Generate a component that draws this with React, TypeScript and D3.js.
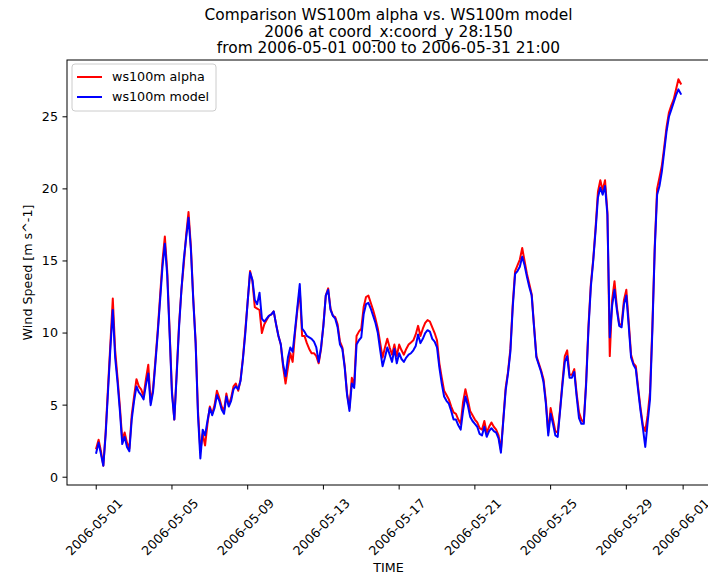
import React, { useEffect, useRef } from 'react';
import * as d3 from 'd3';

// 3-hourly wind speed, one row per day (00:00 ... 21:00), 2006-05-01 .. 2006-05-31
const alpha = [
    2.0, 2.6, 1.8, 0.8, 3.2, 6.3, 9.3, 12.4,
    8.8, 6.9, 4.9, 2.6, 3.1, 2.4, 2.0, 4.3,
    5.6, 6.8, 6.3, 6.1, 5.6, 6.8, 7.8, 5.2,
    6.1, 8.1, 10.2, 12.6, 15.0, 16.7, 14.3, 10.2,
    6.0, 4.0, 7.3, 10.6, 13.0, 14.8, 16.8, 18.4,
    16.0, 12.4, 9.4, 4.6, 1.8, 3.0, 2.2, 3.7,
    4.9, 4.4, 5.0, 6.0, 5.5, 4.9, 4.6, 5.8,
    5.0, 5.5, 6.3, 6.5, 6.0, 6.8, 8.3, 10.2,
    12.2, 14.3, 13.6, 11.8, 11.7, 11.6, 10.0, 10.6,
    10.9, 11.2, 11.3, 11.5, 10.6, 9.8, 9.2, 7.6,
    6.5, 7.6, 8.6, 8.0, 10.0, 11.6, 13.0, 9.8,
    9.8, 9.3, 8.9, 8.6, 8.6, 8.4, 7.9, 8.9,
    10.6, 12.6, 13.1, 11.7, 11.2, 11.1, 10.6, 9.4,
    9.0, 7.7, 5.8, 4.8, 6.9, 6.4, 9.8, 10.1,
    10.3, 11.8, 12.5, 12.6, 12.1, 11.6, 11.0, 10.3,
    9.3, 8.3, 9.0, 9.6, 9.0, 8.5, 9.2, 8.4,
    9.2, 8.8, 8.5, 8.9, 9.2, 9.35, 9.5, 9.9,
    10.5, 9.8, 10.3, 10.7, 10.9, 10.8, 10.4, 10.0,
    9.5, 7.9, 6.9, 6.0, 5.7, 5.4, 4.9, 4.5,
    4.4, 4.0, 3.7, 5.2, 6.1, 5.4, 4.6, 4.3,
    4.0, 3.8, 3.4, 3.3, 3.9, 3.1, 3.5, 3.8,
    3.5, 3.3, 2.9, 1.9, 4.0, 6.2, 7.3, 8.9,
    12.0, 14.3, 14.7, 15.1, 15.9, 15.0, 14.1, 13.4,
    12.7, 10.5, 8.4, 7.9, 7.4, 6.8, 5.3, 3.1,
    4.8, 4.0, 3.2, 3.1, 4.7, 6.6, 8.4, 8.8,
    7.1, 7.1, 7.5, 5.8, 4.5, 4.0, 3.8, 6.6,
    10.5, 13.4, 15.1, 17.3, 19.8, 20.6, 19.9, 20.6,
    18.4, 8.4, 12.3, 13.6, 11.8, 10.6, 10.6, 12.3,
    13.0, 10.8, 8.5, 7.9, 7.7, 6.2, 4.8, 3.6,
    3.2, 4.3, 5.9, 10.5, 16.0, 20.0, 20.8, 21.6,
    22.9, 24.3, 25.3, 25.8, 26.2, 26.9, 27.6, 27.3
];

const model = [
    1.7, 2.4, 1.6, 0.8, 3.0, 6.0, 9.0, 11.6,
    8.3, 6.6, 4.6, 2.3, 2.8, 2.1, 1.8, 4.0,
    5.3, 6.3, 5.9, 5.7, 5.4, 6.4, 7.2, 5.0,
    5.9, 7.9, 10.0, 12.3, 14.6, 16.2, 14.0, 10.0,
    5.8, 4.0, 7.1, 10.4, 13.0, 15.1, 16.6, 18.0,
    15.8, 12.3, 9.3, 4.3, 1.3, 3.3, 2.9, 3.9,
    4.8, 4.3, 4.8, 5.7, 5.3, 4.7, 4.4, 5.6,
    4.9, 5.3, 6.1, 6.3, 6.1, 6.7, 8.2, 10.0,
    12.2, 14.2, 13.7, 12.3, 12.0, 12.8, 11.0, 10.8,
    11.0, 11.2, 11.3, 11.5, 10.6, 9.8, 9.2, 7.8,
    7.0, 8.3, 9.0, 8.7, 10.2, 11.8, 13.4, 10.3,
    10.1, 9.8, 9.7, 9.6, 9.4, 9.0, 8.0, 9.0,
    10.5, 12.6, 13.0, 11.6, 11.2, 11.0, 10.4, 9.2,
    8.9, 7.6, 5.7, 4.6, 6.5, 6.2, 9.2, 9.5,
    9.7, 11.3, 12.0, 12.1, 11.7, 11.2, 10.7, 10.0,
    8.8, 7.7, 8.3, 9.0, 8.5, 8.0, 8.9, 7.9,
    8.6, 8.2, 8.0, 8.3, 8.5, 8.6, 8.8, 9.1,
    9.9, 9.3, 9.6, 10.0, 10.2, 10.1, 9.6, 9.4,
    9.0, 7.6, 6.5, 5.6, 5.3, 5.1, 4.6, 4.0,
    4.0, 3.6, 3.3, 4.6, 5.6, 5.0, 4.2, 3.9,
    3.7, 3.5, 3.0, 2.9, 3.5, 2.8, 3.2, 3.4,
    3.2, 3.1, 2.7, 1.7, 3.9, 6.0, 7.2, 8.7,
    11.8, 14.1, 14.3, 14.6, 15.3, 14.7, 13.9, 13.2,
    12.6, 10.4, 8.3, 7.8, 7.3, 6.6, 5.1, 2.9,
    4.4, 3.7, 2.9, 2.8, 4.6, 6.4, 8.0, 8.4,
    6.9, 6.9, 7.3, 5.6, 4.1, 3.7, 3.7, 6.4,
    10.3, 13.2, 15.0, 17.1, 19.4, 20.1, 19.6, 20.2,
    18.2, 9.7, 11.9, 13.0, 11.6, 10.5, 10.4, 12.0,
    12.6, 10.5, 8.3, 7.8, 7.5, 6.0, 4.6, 3.4,
    2.1, 3.8, 5.4, 10.2, 15.8, 19.6, 20.2, 21.2,
    22.6, 24.0, 25.0, 25.5, 26.0, 26.5, 26.9, 26.6
];

const xTickLabels = ['2006-05-01', '2006-05-05', '2006-05-09', '2006-05-13', '2006-05-17',
    '2006-05-21', '2006-05-25', '2006-05-29', '2006-06-01'];
const yTicks = [0, 5, 10, 15, 20, 25];
const titleLines = ['Comparison WS100m alpha vs. WS100m model', '2006 at coord_x:coord_y 28:150',
    'from 2006-05-01 00:00 to 2006-05-31 21:00'];
const seriesNames = ['ws100m alpha', 'ws100m model'];
const seriesColors = ['#ff0000', '#0000ff'];

const start = Date.UTC(2006, 4, 1, 0, 0);
const times = alpha.map((_, i) => new Date(start + i * 3 * 3600 * 1000));

const App = () => {
    const ref = useRef<SVGSVGElement>(null);

    useEffect(() => {
        const width = 708;
        const height = 576;
        const left = 67, right = 710, top = 60, bottom = 485;
        const font = 'DejaVu Sans, sans-serif';
        const fs = 12.7;

        const svg = d3.select(ref.current);
        svg.selectAll('*').remove();

        // matplotlib style 5% margins
        const t0 = +times[0], t1 = +times[times.length - 1];
        const tpad = (t1 - t0) * 0.05;
        const x = d3.scaleUtc()
            .domain([new Date(t0 - tpad), new Date(t1 + tpad)])
            .range([left, right]);

        const vmin = d3.min([...alpha, ...model]) as number;
        const vmax = d3.max([...alpha, ...model]) as number;
        const vpad = (vmax - vmin) * 0.05;
        const y = d3.scaleLinear()
            .domain([vmin - vpad, vmax + vpad])
            .range([bottom, top]);

        const line = d3.line<number>()
            .x((d, i) => x(times[i]))
            .y((d) => y(d));

        [alpha, model].forEach((s, k) => {
            svg.append('path')
                .attr('d', line(s))
                .attr('fill', 'none')
                .attr('stroke', seriesColors[k])
                .attr('stroke-width', 2)
                .attr('stroke-linejoin', 'round')
                .attr('stroke-linecap', 'square');
        });

        // spines
        svg.append('rect')
            .attr('x', left).attr('y', top)
            .attr('width', right - left).attr('height', bottom - top)
            .attr('fill', 'none').attr('stroke', 'black').attr('stroke-width', 1);

        // y axis
        const gy = svg.append('g');
        yTicks.forEach((v) => {
            gy.append('line')
                .attr('x1', left - 4.5).attr('x2', left)
                .attr('y1', y(v)).attr('y2', y(v))
                .attr('stroke', 'black').attr('stroke-width', 1);
            gy.append('text')
                .attr('x', left - 9).attr('y', y(v))
                .attr('dy', '0.35em')
                .attr('text-anchor', 'end')
                .style('font', `${fs}px ${font}`)
                .text(v);
        });

        // x axis
        const parse = d3.utcParse('%Y-%m-%d');
        const gx = svg.append('g');
        xTickLabels.forEach((lab) => {
            const px = x(parse(lab) as Date);
            gx.append('line')
                .attr('x1', px).attr('x2', px)
                .attr('y1', bottom).attr('y2', bottom + 4.5)
                .attr('stroke', 'black').attr('stroke-width', 1);
            gx.append('text')
                .attr('transform', `translate(${px - 2},${bottom + 42}) rotate(-45)`)
                .attr('text-anchor', 'middle')
                .attr('dy', '0.35em')
                .style('font', `${fs}px ${font}`)
                .text(lab);
        });

        svg.append('text')
            .attr('x', (left + right) / 2).attr('y', 572)
            .attr('text-anchor', 'middle')
            .style('font', `${fs}px ${font}`)
            .text('TIME');

        svg.append('text')
            .attr('transform', `translate(32,${(top + bottom) / 2}) rotate(-90)`)
            .attr('text-anchor', 'middle')
            .style('font', `${fs}px ${font}`)
            .text('Wind Speed [m s^-1]');

        // title
        titleLines.forEach((t, i) => {
            svg.append('text')
                .attr('x', (left + right) / 2)
                .attr('y', 20 + i * 16.5)
                .attr('text-anchor', 'middle')
                .style('font', `15.4px ${font}`)
                .text(t);
        });

        // legend
        const lg = svg.append('g').attr('transform', `translate(${left + 5},${top + 4})`);
        lg.append('rect')
            .attr('width', 144).attr('height', 47)
            .attr('rx', 3)
            .attr('fill', 'white').attr('fill-opacity', 0.8)
            .attr('stroke', '#cccccc').attr('stroke-width', 1);
        seriesNames.forEach((n, i) => {
            const ly = 13 + i * 20;
            lg.append('line')
                .attr('x1', 5).attr('x2', 30)
                .attr('y1', ly).attr('y2', ly)
                .attr('stroke', seriesColors[i]).attr('stroke-width', 2);
            lg.append('text')
                .attr('x', 40).attr('y', ly)
                .attr('dy', '0.35em')
                .style('font', `${fs}px ${font}`)
                .text(n);
        });

        svg.attr('width', width).attr('height', height);
    }, []);

    return (
        <div style={{ position: 'absolute', left: 0, top: 0 }}>
            <svg ref={ref} width={708} height={576} style={{ display: 'block', background: 'white' }} />
        </div>
    );
};

export default App;
